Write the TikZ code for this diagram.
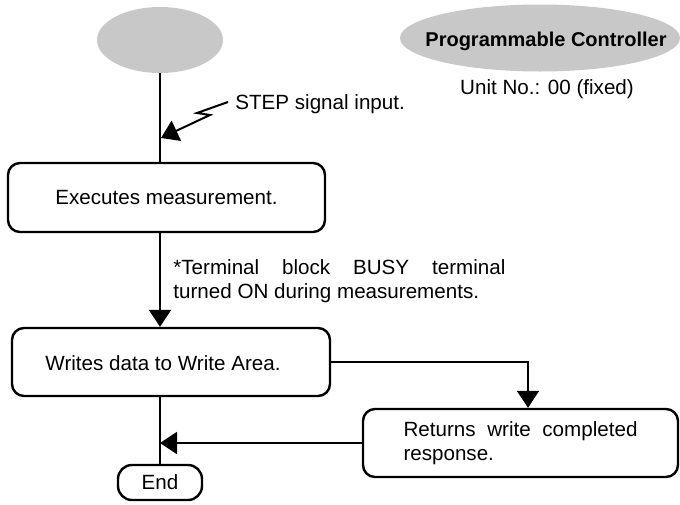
\documentclass[tikz,border=0pt]{standalone}
\usepackage{fontspec}
\setmainfont{Liberation Sans}
\usetikzlibrary{shapes.geometric,arrows.meta}
\definecolor{ellgray}{RGB}{200,200,200}
\begin{document}
\begin{tikzpicture}[x=0.5pt,y=-0.5pt,
  font=\fontsize{10.3pt}{12pt}\selectfont,
  ell/.style={ellipse,fill=ellgray,draw=none,inner sep=0pt},
  procbox/.style={draw,line width=1.2pt,rounded corners=6pt,inner sep=0pt},
  conn/.style={line width=1pt},
  arr/.style={line width=1pt,-{Triangle[length=8.5pt,width=11pt]}}]
\useasboundingbox (0,0) rectangle (680,504);
% ellipses
\node[ell,minimum width=63pt,minimum height=33pt] (e1) at (160,40) {};
\node[ell,minimum width=140pt,minimum height=33.5pt] (e2) at (540,38) {};
\node[font=\fontsize{10pt}{12pt}\selectfont\bfseries] (pc) at (546,41) {Programmable Controller};
\node (unit) at (547,89) {Unit No.: 00 (fixed)};
% boxes
\node[procbox,minimum width=158.5pt,minimum height=34.5pt] (box1) at (166.5,197.5) {Executes measurement.};
\node[procbox,minimum width=159pt,minimum height=34pt] (box2) at (171,362) {};
\node (t2) at (163,363) {Writes data to Write Area.};
\node[procbox,minimum width=157.5pt,minimum height=34pt,text width=117pt,align=justify] (box3) at (520.5,443) {Returns write completed\linebreak response.};
\node[procbox,rounded corners=7pt,minimum width=42pt,minimum height=17.5pt] (end) at (160,482.5) {End};
% texts
\node[anchor=west,inner sep=0pt] (step) at (235,104) {STEP signal input.};
\node[anchor=north west,inner sep=0pt,text width=166pt,align=justify] (note) at (173,259) {*Terminal block BUSY terminal\linebreak turned ON during measurements.};
% connectors
\draw[conn] (e1.south) -- (box1.north -| e1.south);
\draw[arr] (box1.south -| e1.south) -- (box2.north -| e1.south);
\draw[conn] (box2.south -| end.north) -- (end.north);
\draw[arr] (box2.east) -| ([xshift=3.75pt]box3.north);
\draw[arr] (box3.west) -- (box3.west -| end.north);
\coordinate (ls) at (228,102);
\draw[arr] (ls) -- (197,113) -- (210,115) -- (161,138);
\end{tikzpicture}
\end{document}
